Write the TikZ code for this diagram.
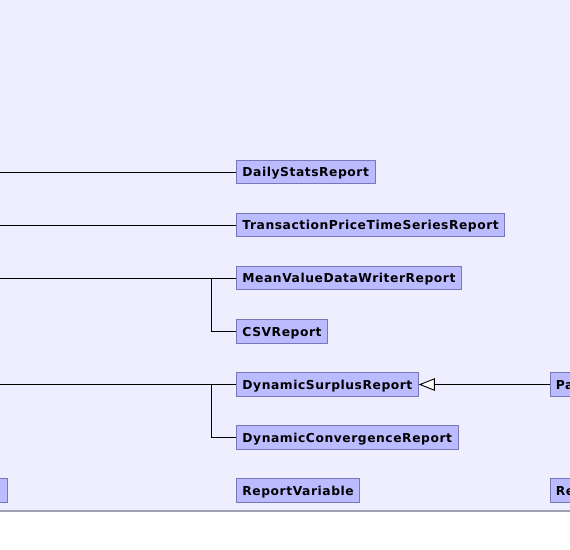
\documentclass[tikz,border=0pt]{standalone}
\usepackage{fontspec}
\setmainfont{DejaVu Sans}
\newfontfamily\clsfont[LetterSpace=4.5]{DejaVu Sans}
\usetikzlibrary{arrows.meta}
\definecolor{bgcol}{RGB}{238,238,255}
\definecolor{boxcol}{RGB}{187,187,255}
\definecolor{edgecol}{RGB}{120,120,185}
\definecolor{rulecol}{RGB}{160,160,176}
\newcommand{\cls}[3]{\node[cls] (#1) at (#2) {#3}}
\begin{document}
\begin{tikzpicture}[x=1pt,y=-1pt,
	cls/.style={draw=edgecol,fill=boxcol,anchor=west,line width=0.9pt,
		inner xsep=6pt,minimum height=23.5pt,text height=9.4pt,text depth=0pt,
		font=\clsfont\fontsize{12.3}{15}\selectfont\bfseries},
	link/.style={line width=0.9pt}]
\useasboundingbox (0,0) rectangle (570,549);
\clip (0,0) rectangle (570,549);
\fill[bgcol] (0,0) rectangle (570,511);
\draw[rulecol,line width=1.2pt] (0,511) -- (570,511);
	\cls{daily}{236,172}{DailyStatsReport};
	\cls{trans}{236,225}{TransactionPriceTimeSeriesReport};
	\cls{mean}{236,278}{MeanValueDataWriterReport};
	\cls{csv}{236,331.5}{CSVReport};
	\cls{surplus}{236,384.5}{DynamicSurplusReport};
	\cls{conv}{236,437.5}{DynamicConvergenceReport};
	\cls{repvar}{236,490.5}{ReportVariable};
	\node[cls,minimum width=60pt] (leftbox) at (-53,490.5) {};
	\node[cls,text width=60pt,align=left] (pa) at (549.5,384.5) {Pa};
	\node[cls,text width=60pt,align=left] (re) at (549.5,490.5) {Re};
%
	\coordinate (inA) at (0,172);
	\coordinate (inB) at (0,225);
	\coordinate (inC) at (0,278);
	\coordinate (inD) at (0,384.5);
	\coordinate (jC) at (211.7,278);
	\coordinate (jD) at (211.7,384.5);
	\draw[link] (inA) -- (daily.west);
	\draw[link] (inB) -- (trans.west);
	\draw[link] (inC) -- (mean.west);
	\draw[link] (jC) |- (csv.west);
	\draw[link] (inD) -- (surplus.west);
	\draw[link] (jD) |- (conv.west);
	\draw[link,-{Triangle[open,fill=white,length=16pt,width=12.5pt]}] (pa.west) -- (surplus.east);
\end{tikzpicture}
\end{document}
